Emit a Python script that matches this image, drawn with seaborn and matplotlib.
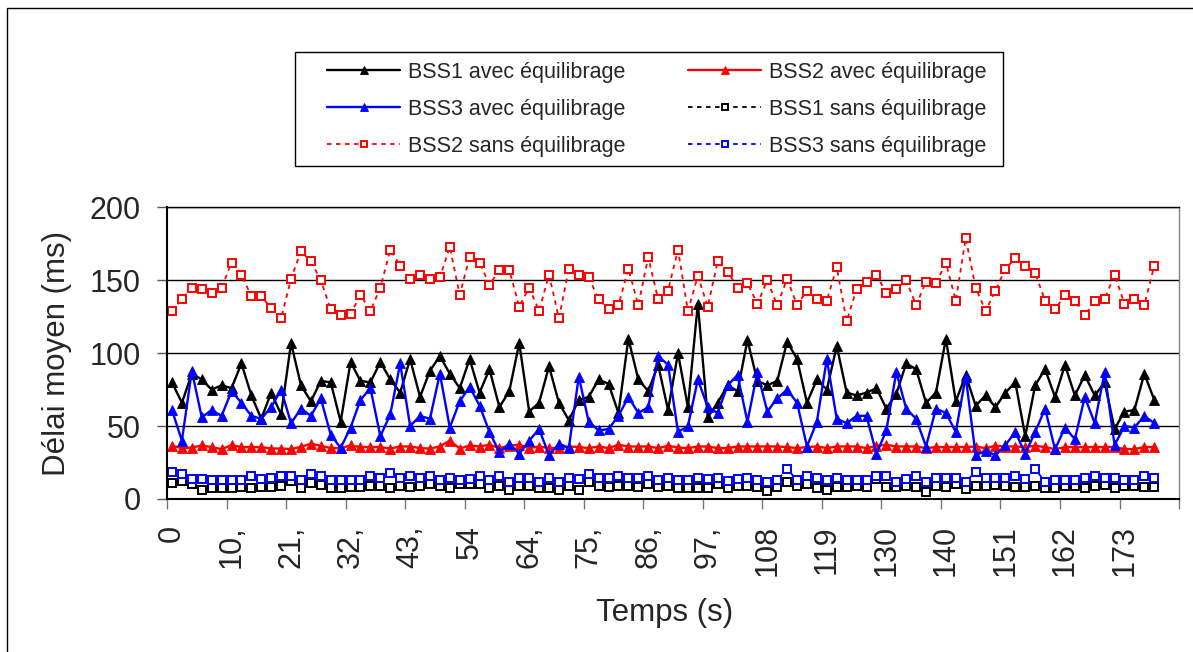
import numpy as np
import matplotlib
matplotlib.use("Agg")
import matplotlib.pyplot as plt
import seaborn as sns
from matplotlib.patches import Rectangle

# étiquettes de l'axe des temps (une toutes les 6 mesures)
temps_labels = ["0", "10,", "21,", "32,", "43,", "54", "64,", "75,", "86,", "97,",
                "108", "119", "130", "140", "151", "162", "173"]

bss1_avec = [80, 66, 86, 82, 75, 78, 76, 93, 71, 55,
             73, 58, 107, 78, 67, 81, 80, 53, 94, 81,
             80, 94, 82, 73, 96, 70, 88, 98, 86, 76,
             96, 73, 89, 63, 74, 107, 60, 66, 91, 66,
             54, 68, 70, 82, 79, 59, 110, 82, 74, 92,
             61, 100, 63, 134, 56, 66, 78, 74, 109, 81,
             78, 81, 108, 96, 66, 82, 75, 105, 73, 71,
             73, 76, 62, 72, 93, 89, 66, 73, 110, 67,
             85, 64, 71, 63, 73, 80, 43, 78, 89, 70,
             92, 71, 85, 71, 80, 48, 60, 61, 86, 68]

bss2_avec = [36.5, 34.9, 35.3, 36.7, 35.6, 34.2, 36.9, 35.6, 35.6, 35.6,
             34.6, 34.6, 34.2, 35.8, 37.9, 36.5, 34.9, 34.9, 36.7, 35.6,
             35.6, 35.6, 34.6, 36, 36, 34.9, 34.6, 36, 40.1, 34.6,
             36.7, 36, 37.2, 34.9, 36.5, 37.2, 34.9, 36, 34.9, 34.9,
             36, 35.6, 34.9, 36, 34.9, 37.2, 36, 36, 36, 34.9,
             36.5, 35.3, 34.9, 36, 36, 34.9, 34.9, 36, 36, 36,
             36, 36, 35.6, 34.9, 35.6, 36, 34.9, 36, 36, 36,
             34.9, 36.5, 37.2, 36, 36, 36, 34.9, 35.6, 35.6, 35.6,
             35.6, 36, 34.9, 36.5, 36, 36, 35.6, 36.5, 35.6, 34.2,
             35.6, 35.6, 35.6, 35.6, 35.6, 35.6, 34.2, 34.2, 35.6, 35.6]

bss3_avec = [61, 40, 88, 56, 61, 57, 74, 66, 57, 55,
             63, 75, 52, 62, 57, 69, 44, 35, 49, 68,
             76, 43, 58, 93, 50, 57, 55, 86, 49, 67,
             77, 64, 46, 32, 38, 31, 40, 48, 30, 38,
             35, 84, 53, 47, 48, 57, 70, 59, 63, 98,
             92, 46, 50, 82, 63, 59, 78, 85, 53, 87,
             60, 69, 75, 66, 36, 53, 96, 55, 52, 57,
             57, 31, 47, 87, 62, 55, 36, 62, 59, 46,
             84, 30, 33, 30, 37, 46, 31, 46, 62, 34,
             49, 41, 70, 52, 87, 37, 50, 49, 57, 52]

bss1_sans = [11.2, 12.6, 10.3, 6.2, 7.3, 7.3, 7.3, 8.5, 7.3, 8,
             8, 8.9, 12.6, 7.3, 11.2, 9.6, 7.3, 7.3, 8.5, 8.5,
             8.9, 8.9, 7.8, 8.9, 8, 8.9, 10.1, 8.9, 7.3, 10.1,
             10.1, 10.1, 7.3, 8.9, 6.2, 8.9, 8.9, 7.8, 7.3, 6.2,
             8.9, 6.2, 11.9, 8.9, 8, 8.9, 8.9, 8, 10.3, 8,
             8.9, 7.3, 7.3, 7.3, 7.3, 10.1, 7.3, 8.9, 8.9, 8,
             5.7, 8, 11.9, 8.9, 10.1, 7.3, 6.2, 8, 8, 8.9,
             8, 13.5, 8, 8, 8.9, 8, 5, 8.9, 8, 10.3,
             6.7, 8.9, 8.9, 9.6, 8.9, 8, 8, 8.9, 7.3, 7.3,
             8.9, 8.9, 7.3, 8.9, 9.6, 7.3, 8.9, 8.9, 8, 8]

bss2_sans = [129, 137, 145, 144, 141, 145, 162, 154, 139, 139,
             131, 124, 151, 170, 163, 150, 130, 126, 127, 140,
             129, 145, 171, 160, 151, 154, 151, 152, 173, 140,
             166, 162, 147, 157, 157, 132, 145, 129, 154, 124,
             158, 154, 152, 137, 130, 133, 158, 133, 166, 137,
             143, 171, 129, 153, 132, 163, 156, 145, 148, 134,
             150, 133, 151, 133, 143, 137, 136, 159, 122, 144,
             149, 154, 141, 144, 150, 133, 149, 148, 162, 136,
             179, 145, 129, 143, 158, 165, 160, 155, 136, 130,
             140, 136, 126, 136, 137, 154, 134, 137, 133, 160]

bss3_sans = [18.8, 17.2, 13.5, 13.5, 13.1, 13.1, 13.1, 13.1, 15.8, 13.5,
             14.7, 15.8, 15.8, 13.1, 17.2, 15.8, 13.1, 13.1, 13.1, 13.1,
             15.8, 14.7, 17.7, 14.7, 15.8, 14.7, 15.8, 13.1, 14.7, 13.1,
             13.5, 15.8, 13.1, 15.8, 11.9, 14.7, 14.7, 11.9, 14.7, 11.9,
             14.7, 13.5, 17.2, 14.7, 14.7, 15.8, 14.7, 14.7, 15.8, 13.1,
             14.2, 13.1, 13.1, 14.7, 13.5, 14.7, 12.4, 13.5, 14.7, 13.1,
             11.9, 13.1, 20.4, 13.1, 15.8, 14.7, 13.1, 14.7, 13.1, 13.1,
             13.1, 15.8, 15.8, 11.9, 13.5, 15.8, 11.9, 14.7, 14.7, 14.7,
             11.9, 18.8, 14.7, 14.7, 14.7, 15.8, 13.5, 20.4, 11.9, 13.1,
             13.1, 13.1, 14.7, 15.8, 14.7, 14.7, 13.1, 13.1, 15.8, 14.7]

idx = np.arange(len(bss1_avec))

sns.set_style("white")
plt.rcParams["font.family"] = ["Liberation Sans", "DejaVu Sans"]

fig = plt.figure(figsize=(11.93, 6.52), dpi=100)
ax = fig.add_axes([0.140, 0.2347, 0.8483, 0.4471])

dash = (0, (2.5, 2.5))
series = [
    ("BSS1 avec équilibrage", bss1_avec, "black", "^", "-"),
    ("BSS2 avec équilibrage", bss2_avec, "red", "^", "-"),
    ("BSS3 avec équilibrage", bss3_avec, "blue", "^", "-"),
    ("BSS1 sans équilibrage", bss1_sans, "black", "s", dash),
    ("BSS2 sans équilibrage", bss2_sans, "red", "s", dash),
    ("BSS3 sans équilibrage", bss3_sans, "blue", "s", dash),
]

for label, vals, color, marker, ls in series:
    sans = marker == "s"
    sns.lineplot(x=idx, y=vals, ax=ax, color=color, label=label, legend=False,
                 marker=marker, linestyle=ls,
                 linewidth=1.3 if sans else 1.7,
                 markersize=5.5 if sans else 7.5,
                 markerfacecolor="white" if sans else color,
                 markeredgecolor=color,
                 markeredgewidth=1.4 if sans else 0.6)

ax.set_xlim(-0.5, 101.5)
ax.set_ylim(0, 200)
ax.set_yticks([0, 50, 100, 150, 200])
ax.yaxis.grid(True, color="black", linewidth=1)
ax.xaxis.grid(False)
ax.set_axisbelow(True)

ax.set_xticks(idx[::6])
ax.set_xticklabels(temps_labels)
ax.set_xticks(np.arange(-0.5, 102, 6), minor=True)
ax.tick_params(axis="x", which="major", length=0, pad=19, labelsize=22,
               labelrotation=90, bottom=True)
ax.tick_params(axis="x", which="minor", length=7, width=1, color="#777777",
               bottom=True)
ax.tick_params(axis="y", length=7, width=1, color="#555555", pad=12,
               labelsize=22, left=True)

for side in ["left", "bottom"]:
    ax.spines[side].set_color("black")
    ax.spines[side].set_linewidth(1.5)
ax.spines["top"].set_color("black")
ax.spines["top"].set_linewidth(1)
ax.spines["right"].set_color("#808080")
ax.spines["right"].set_linewidth(1)

ax.set_ylabel("Délai moyen (ms)", fontsize=22.5, va="center")
ax.yaxis.set_label_coords(-0.1087, 0.5)
ax.set_xlabel("Temps (s)", fontsize=22.5, va="center")
ax.xaxis.set_label_coords(0.492, -0.39)

handles, labels = ax.get_legend_handles_labels()
order = [0, 2, 4, 1, 3, 5]
ax.legend([handles[i] for i in order], [labels[i] for i in order],
          ncol=2, loc="upper left", bbox_to_anchor=(327 / 1193, 1 - 62 / 652),
          bbox_transform=fig.transFigure, frameon=False, fontsize=15.5,
          handlelength=3.4, handletextpad=0.37, columnspacing=2.9,
          labelspacing=0.74, borderpad=0, borderaxespad=0, markerscale=0.7)

# cadre de la légende et cadre extérieur
fig.add_artist(Rectangle((295 / 1193, 1 - 166 / 652), 708 / 1193, 114 / 652,
                         transform=fig.transFigure, fill=False,
                         edgecolor="black", linewidth=1))
fig.add_artist(Rectangle((7 / 1193, -0.05), 1.2, 1.05 - 8 / 652,
                         transform=fig.transFigure, fill=False,
                         edgecolor="black", linewidth=1))

fig.savefig("out.png", dpi=100)
